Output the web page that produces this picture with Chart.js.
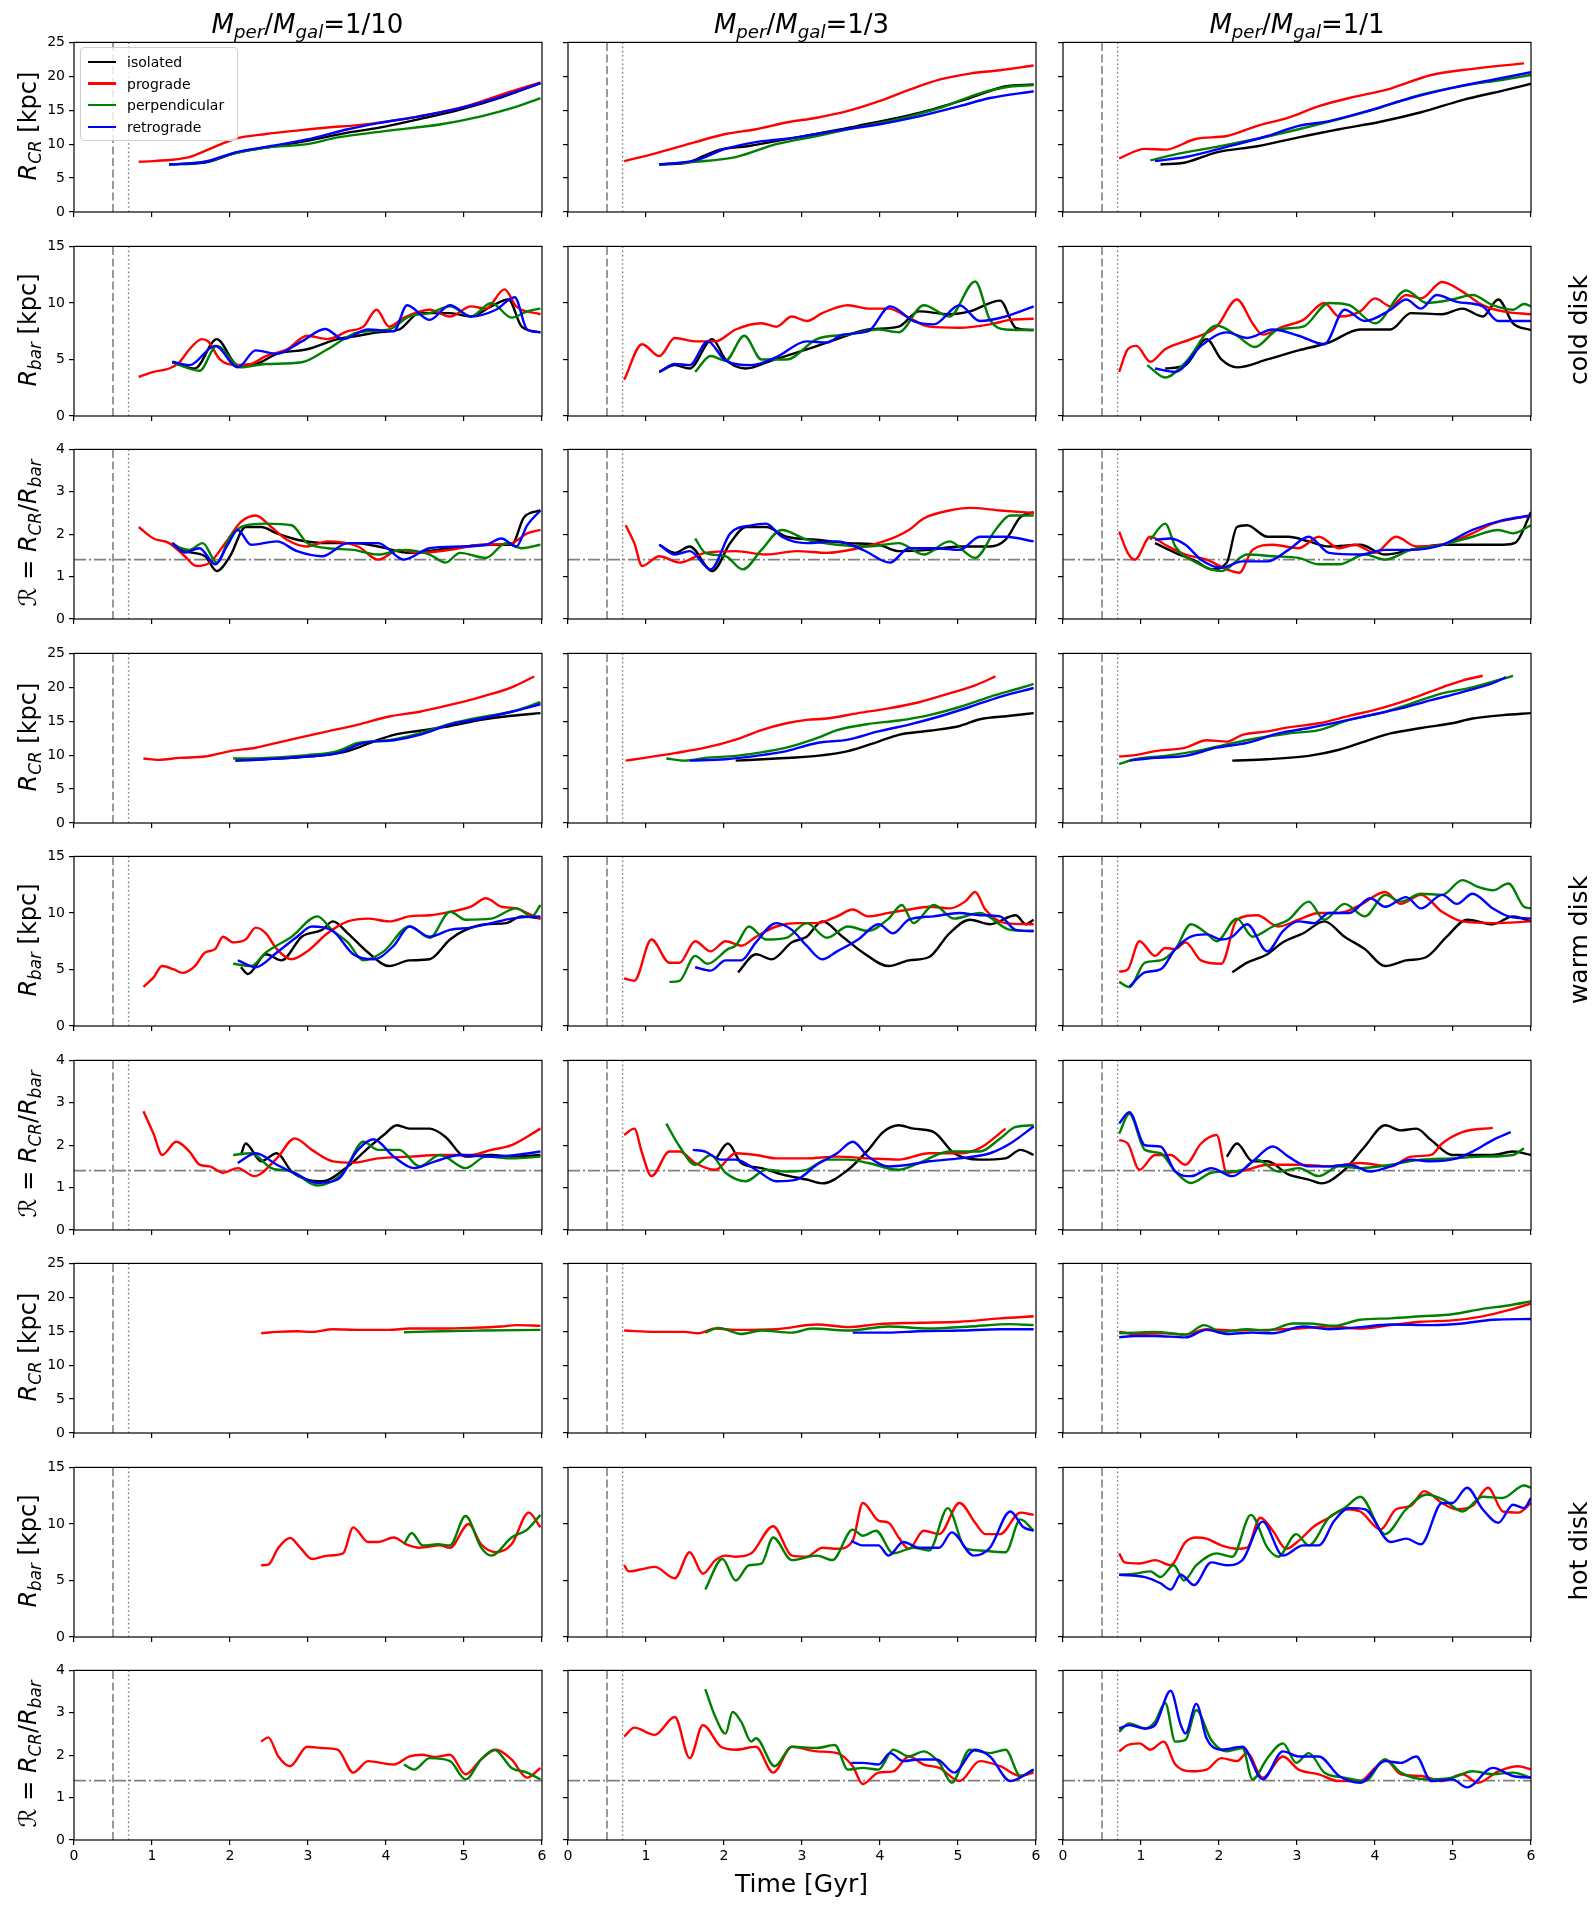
<!DOCTYPE html>
<html>
<head>
<meta charset="utf-8">
<title>Bar corotation radius and bar length</title>
<script src="https://cdn.jsdelivr.net/npm/chart.js@4.4.0/dist/chart.umd.min.js"></script>
<style>
  html, body { margin: 0; padding: 0; background: #fff; }
  body { position: relative; width: 1595px; height: 1908px; overflow: hidden; font-family: "DejaVu Sans", sans-serif; color: #000; }
  .lbl { position: absolute; white-space: nowrap; font-size: 24px; line-height: 1; transform: translate(-50%, -50%); z-index: 3; }
  .rot { transform: translate(-50%, -50%) rotate(-90deg); }
  .lbl i { font-style: italic; }
  .lbl sub { font-size: 70%; vertical-align: -0.3em; line-height: 0; }
  #legend { position: absolute; left: 80px; top: 47px; width: 156px; height: 92px; border: 1px solid #d0d0d0; border-radius: 4px; background: rgba(255,255,255,0.8); z-index: 4; font-size: 14px; }
  .lg-line { position: absolute; left: 7px; width: 28px; height: 2.5px; }
  .lg-text { position: absolute; left: 46px; line-height: 1; transform: translateY(-50%); white-space: nowrap; }
</style>
</head>
<body>
<div id="legend"></div>
<script>
// axis ticks and reference lines
const timeTicks = [0, 1, 2, 3, 4, 5, 6];
const rcrTicks = [0, 5, 10, 15, 20, 25];
const rbarTicks = [0, 5, 10, 15];
const ratioTicks = [0, 1, 2, 3, 4];
const encounterTimes = [0.5, 0.7];
const ratioFast = 1.4;

const seriesNames = ['isolated', 'prograde', 'perpendicular', 'retrograde'];
const seriesColors = ['#000000', '#ff0000', '#008000', '#0000ff'];
const massRatios = ['1/10', '1/3', '1/1'];
const diskNames = ['cold disk', 'warm disk', 'hot disk'];

// ---- cold disk: R_CR [kpc] (time Gyr, value)
const coldRcr10Iso = [[1.22,7.0],[1.68,7.3],[2.07,8.7],[2.46,9.5],[2.99,10.5],[3.51,11.7],[3.9,12.4],[4.43,13.7],[4.95,15.1],[5.48,16.9],[5.98,19.0]];
const coldRcr10Pro = [[0.83,7.4],[1.02,7.5],[1.48,8.1],[1.74,9.3],[2.07,10.8],[2.46,11.5],[2.86,12.0],[3.25,12.45],[3.64,12.8],[4.04,13.4],[4.56,14.4],[5.09,15.8],[5.48,17.3],[5.98,19.1]];
const coldRcr10Per = [[1.22,7.0],[1.68,7.4],[2.07,8.7],[2.46,9.5],[2.99,10.0],[3.38,11.0],[4.04,12.0],[4.69,12.9],[5.22,14.1],[5.61,15.3],[5.98,16.8]];
const coldRcr10Ret = [[1.22,7.0],[1.68,7.4],[2.07,8.8],[2.46,9.6],[2.99,10.7],[3.51,12.2],[3.9,13.1],[4.43,14.1],[4.95,15.3],[5.48,17.0],[5.98,19.0]];

const coldRcr3Iso = [[1.17,7.0],[1.5,7.2],[1.75,8.3],[1.95,9.2],[2.3,9.7],[2.93,11.0],[3.72,12.7],[4.5,14.6],[5.15,16.8],[5.6,18.5],[5.97,18.8]];
const coldRcr3Pro = [[0.72,7.5],[1.11,8.6],[1.63,10.3],[2.02,11.5],[2.41,12.2],[2.8,13.2],[3.19,13.9],[3.59,14.9],[3.98,16.3],[4.37,18.0],[4.76,19.5],[5.15,20.4],[5.54,20.9],[5.97,21.6]];
const coldRcr3Per = [[1.17,7.0],[1.63,7.4],[2.15,8.1],[2.67,10.0],[3.19,11.2],[3.72,12.5],[4.24,13.7],[4.76,15.3],[5.28,17.5],[5.67,18.5],[5.97,18.7]];
const coldRcr3Ret = [[1.17,7.0],[1.63,7.6],[2.02,9.3],[2.41,10.3],[2.93,11.0],[3.45,12.0],[3.98,12.9],[4.5,14.1],[5.02,15.6],[5.41,16.8],[5.97,17.8]];

const coldRcr1Iso = [[1.25,7.0],[1.57,7.3],[1.97,8.8],[2.49,9.7],[3.02,11.0],[3.54,12.2],[4.07,13.3],[4.59,14.7],[5.12,16.5],[5.64,17.9],[6.0,18.9]];
const coldRcr1Pro = [[0.72,7.9],[1.05,9.3],[1.31,9.2],[1.71,10.8],[2.1,11.2],[2.49,12.7],[2.89,13.9],[3.28,15.6],[3.67,16.8],[4.2,18.2],[4.72,20.2],[5.25,21.1],[5.91,21.9]];
const coldRcr1Per = [[1.12,7.6],[1.44,8.5],[1.97,9.6],[2.49,10.8],[3.02,12.2],[3.54,13.7],[4.07,15.4],[4.59,17.3],[5.12,18.6],[5.64,19.5],[6.0,20.2]];
const coldRcr1Ret = [[1.18,7.5],[1.57,8.1],[2.1,9.6],[2.62,11.2],[3.02,12.7],[3.41,13.4],[3.94,15.0],[4.46,16.8],[4.99,18.3],[5.51,19.5],[6.0,20.6]];

// ---- cold disk: R_bar [kpc]
const coldRbar10Iso = [[1.26,4.75],[1.55,4.2],[1.83,6.8],[2.1,4.5],[2.33,4.6],[2.6,5.5],[2.99,5.9],[3.38,6.8],[3.64,7.1],[3.9,7.4],[4.17,7.65],[4.43,9.1],[4.82,9.1],[5.09,8.8],[5.35,9.7],[5.57,10.3],[5.74,7.9],[5.98,7.4]];
const coldRbar10Pro = [[0.83,3.45],[1.02,3.9],[1.22,4.2],[1.35,4.75],[1.48,5.9],[1.64,6.8],[1.72,6.6],[1.87,5.0],[2.07,4.5],[2.27,4.6],[2.46,5.3],[2.73,5.9],[2.99,7.1],[3.25,6.8],[3.51,7.5],[3.71,7.9],[3.88,9.4],[4.04,7.9],[4.23,8.7],[4.56,9.4],[4.82,8.8],[5.09,9.7],[5.28,9.5],[5.52,11.2],[5.67,9.7],[5.98,9.0]];
const coldRbar10Per = [[1.26,4.75],[1.61,4.0],[1.83,6.2],[2.14,4.3],[2.46,4.6],[2.92,4.75],[3.25,5.9],[3.64,7.4],[4.04,7.65],[4.3,8.8],[4.56,9.1],[4.82,9.7],[5.09,8.8],[5.35,10.0],[5.61,8.7],[5.81,9.25],[5.98,9.5]];
const coldRbar10Ret = [[1.26,4.8],[1.48,4.5],[1.81,6.2],[2.1,4.3],[2.33,5.8],[2.6,5.5],[2.92,6.6],[3.22,7.7],[3.45,6.8],[3.77,7.65],[4.1,7.5],[4.27,9.8],[4.56,8.5],[4.82,9.8],[5.09,8.8],[5.41,9.4],[5.65,10.5],[5.81,7.65],[5.98,7.4]];

const coldRbar3Iso = [[1.17,3.9],[1.37,4.5],[1.56,4.2],[1.85,6.8],[2.02,5.0],[2.28,4.2],[2.61,4.9],[3.06,5.9],[3.45,6.8],[3.85,7.65],[4.24,7.9],[4.5,9.25],[4.89,9.0],[5.15,9.25],[5.54,10.2],[5.74,7.8],[5.97,7.6]];
const coldRbar3Pro = [[0.72,3.2],[0.95,6.35],[1.17,5.3],[1.37,6.9],[1.63,6.6],[1.89,6.6],[2.15,7.65],[2.48,8.2],[2.67,7.9],[2.87,8.8],[3.06,8.4],[3.26,9.1],[3.59,9.8],[3.85,9.5],[4.11,9.5],[4.37,8.7],[4.63,7.9],[5.02,7.8],[5.41,8.1],[5.67,8.5],[5.97,8.6]];
const coldRbar3Per = [[1.63,3.9],[1.83,5.3],[2.02,4.9],[2.26,7.1],[2.48,5.0],[2.8,5.0],[3.19,6.8],[3.59,7.2],[3.98,7.65],[4.24,7.4],[4.56,9.8],[4.89,8.8],[5.22,11.9],[5.41,8.5],[5.61,7.65],[5.97,7.6]];
const coldRbar3Ret = [[1.17,3.9],[1.37,4.6],[1.56,4.5],[1.79,6.6],[2.02,4.9],[2.35,4.5],[2.67,5.2],[3.06,6.6],[3.32,6.5],[3.52,7.2],[3.85,7.5],[4.13,9.7],[4.43,8.4],[4.69,8.1],[5.02,9.8],[5.28,8.4],[5.61,8.8],[5.97,9.7]];

const coldRbar1Iso = [[1.31,4.2],[1.57,4.5],[1.84,6.8],[2.03,5.0],[2.23,4.3],[2.62,5.0],[3.02,5.8],[3.41,6.5],[3.81,7.65],[4.2,7.65],[4.46,9.1],[4.86,9.0],[5.12,9.5],[5.38,8.8],[5.58,10.3],[5.77,8.2],[6.0,7.6]];
const coldRbar1Pro = [[0.72,3.9],[0.83,5.9],[0.94,6.2],[1.12,4.8],[1.31,5.9],[1.64,6.8],[1.97,7.9],[2.23,10.3],[2.43,8.2],[2.56,7.2],[2.82,7.9],[3.08,8.5],[3.35,10.0],[3.54,8.8],[3.81,9.25],[4.0,10.4],[4.2,9.7],[4.4,10.7],[4.59,10.4],[4.86,11.85],[5.12,11.0],[5.38,9.8],[5.64,9.25],[6.0,9.0]];
const coldRbar1Per = [[1.08,4.5],[1.31,3.4],[1.57,4.75],[1.97,8.0],[2.23,7.1],[2.46,6.1],[2.76,7.65],[3.08,7.9],[3.41,10.0],[3.67,9.8],[4.0,8.2],[4.4,11.1],[4.66,10.0],[4.99,10.3],[5.25,10.7],[5.51,9.8],[5.77,9.4],[5.91,9.9],[6.0,9.7]];
const coldRbar1Ret = [[1.18,4.2],[1.44,3.9],[1.77,6.2],[2.1,7.4],[2.36,6.9],[2.69,7.65],[3.02,7.1],[3.35,6.35],[3.61,9.4],[3.87,8.4],[4.2,9.4],[4.4,10.3],[4.59,9.5],[4.79,10.7],[5.05,10.1],[5.38,9.7],[5.58,8.4],[6.0,8.4]];

// ---- cold disk: R = R_CR / R_bar
const coldQ10Iso = [[1.26,1.79],[1.42,1.6],[1.68,1.48],[1.83,1.13],[2.0,1.48],[2.2,2.17],[2.4,2.17],[2.6,2.02],[2.86,1.87],[3.25,1.79],[3.58,1.79],[3.9,1.71],[4.3,1.56],[4.82,1.67],[5.35,1.75],[5.61,1.75],[5.77,2.4],[5.98,2.56]];
const coldQ10Pro = [[0.83,2.17],[1.02,1.9],[1.22,1.79],[1.42,1.48],[1.57,1.25],[1.74,1.33],[1.94,1.79],[2.14,2.29],[2.33,2.44],[2.53,2.17],[2.73,1.87],[2.99,1.71],[3.25,1.83],[3.64,1.71],[3.9,1.4],[4.17,1.63],[4.43,1.56],[4.82,1.63],[5.22,1.75],[5.61,1.79],[5.81,2.02],[5.98,2.1]];
const coldQ10Per = [[1.26,1.75],[1.48,1.63],[1.65,1.79],[1.83,1.33],[2.0,1.94],[2.2,2.21],[2.46,2.25],[2.79,2.21],[2.99,1.79],[3.25,1.67],[3.58,1.63],[3.9,1.52],[4.23,1.63],[4.56,1.52],[4.76,1.33],[4.95,1.56],[5.28,1.44],[5.54,1.79],[5.74,1.67],[5.98,1.75]];
const coldQ10Ret = [[1.26,1.79],[1.42,1.57],[1.61,1.67],[1.81,1.29],[1.97,1.75],[2.1,2.1],[2.27,1.75],[2.6,1.83],[2.86,1.6],[3.18,1.48],[3.51,1.79],[3.9,1.79],[4.23,1.4],[4.56,1.67],[4.95,1.71],[5.28,1.75],[5.48,1.9],[5.67,1.71],[5.81,2.21],[5.98,2.56]];

const coldQ3Iso = [[1.17,1.75],[1.37,1.56],[1.56,1.71],[1.85,1.13],[2.08,1.79],[2.28,2.17],[2.54,2.17],[2.8,1.94],[3.19,1.87],[3.59,1.79],[3.98,1.75],[4.24,1.6],[4.63,1.63],[5.02,1.71],[5.41,1.71],[5.61,1.87],[5.8,2.4],[5.97,2.52]];
const coldQ3Pro = [[0.74,2.21],[0.85,1.79],[0.95,1.25],[1.17,1.48],[1.43,1.33],[1.76,1.56],[2.15,1.6],[2.54,1.52],[2.93,1.6],[3.32,1.56],[3.72,1.67],[4.11,1.87],[4.37,2.1],[4.56,2.37],[4.89,2.56],[5.15,2.62],[5.54,2.56],[5.97,2.5]];
const coldQ3Per = [[1.63,1.9],[1.76,1.56],[2.02,1.48],[2.24,1.17],[2.48,1.63],[2.74,2.1],[3.06,1.87],[3.45,1.75],[3.85,1.71],[4.24,1.79],[4.56,1.52],[4.89,1.83],[5.22,1.44],[5.48,2.1],[5.67,2.44],[5.97,2.44]];
const coldQ3Ret = [[1.17,1.75],[1.37,1.52],[1.56,1.6],[1.83,1.17],[2.08,2.02],[2.35,2.21],[2.54,2.25],[2.74,1.94],[3.06,1.79],[3.45,1.83],[3.78,1.63],[4.13,1.33],[4.37,1.67],[4.69,1.67],[5.02,1.63],[5.28,1.94],[5.61,1.94],[5.97,1.83]];

const coldQ1Iso = [[1.18,1.79],[1.44,1.56],[1.71,1.36],[1.9,1.17],[2.1,1.33],[2.23,2.17],[2.36,2.21],[2.62,1.94],[2.89,1.94],[3.15,1.83],[3.41,1.71],[3.81,1.75],[4.13,1.52],[4.46,1.63],[4.86,1.75],[5.25,1.75],[5.64,1.75],[5.8,1.8],[6.0,2.52]];
const coldQ1Pro = [[0.72,2.06],[0.83,1.56],[0.92,1.4],[1.12,1.94],[1.31,1.75],[1.57,1.52],[1.84,1.4],[2.1,1.17],[2.26,1.09],[2.43,1.63],[2.69,1.75],[3.02,1.67],[3.28,1.94],[3.54,1.67],[3.74,1.75],[4.0,1.56],[4.27,1.94],[4.53,1.71],[4.86,1.75],[5.25,2.02],[5.51,2.25],[6.0,2.44]];
const coldQ1Per = [[1.12,1.87],[1.31,2.25],[1.44,1.71],[1.71,1.33],[2.03,1.13],[2.36,1.52],[2.69,1.48],[3.02,1.44],[3.28,1.29],[3.54,1.29],[3.87,1.52],[4.13,1.4],[4.46,1.63],[4.86,1.75],[5.25,1.94],[5.58,2.1],[5.77,2.02],[6.0,2.21]];
const coldQ1Ret = [[1.18,1.87],[1.38,1.9],[1.57,1.75],[1.77,1.4],[2.03,1.21],[2.3,1.36],[2.62,1.36],[2.89,1.63],[3.15,1.94],[3.41,1.56],[3.81,1.52],[4.13,1.63],[4.46,1.63],[4.86,1.75],[5.25,2.1],[5.64,2.33],[6.0,2.44]];

// ---- warm disk: R_CR [kpc]
const warmRcr10Iso = [[2.07,9.2],[2.6,9.5],[3.12,9.9],[3.51,10.6],[3.84,12.0],[4.1,13.0],[4.43,13.6],[4.82,14.3],[5.22,15.2],[5.61,15.8],[5.98,16.2]];
const warmRcr10Pro = [[0.89,9.5],[1.09,9.3],[1.35,9.6],[1.68,9.8],[2.0,10.6],[2.33,11.1],[2.6,11.8],[2.86,12.5],[3.25,13.5],[3.64,14.5],[4.04,15.7],[4.43,16.4],[4.82,17.4],[5.22,18.6],[5.61,20.0],[5.9,21.6]];
const warmRcr10Per = [[2.04,9.5],[2.46,9.6],[2.99,10.0],[3.38,10.6],[3.64,11.8],[4.04,12.2],[4.43,13.2],[4.82,14.6],[5.22,15.6],[5.61,16.4],[5.98,17.8]];
const warmRcr10Ret = [[2.07,9.2],[2.46,9.4],[2.99,9.8],[3.38,10.3],[3.71,11.8],[4.1,12.2],[4.43,13.0],[4.82,14.5],[5.22,15.4],[5.61,16.4],[5.98,17.5]];

const warmRcr3Iso = [[2.15,9.2],[2.67,9.5],[3.19,9.9],[3.59,10.6],[3.98,12.0],[4.24,13.0],[4.63,13.6],[5.02,14.3],[5.28,15.3],[5.67,15.8],[5.97,16.2]];
const warmRcr3Pro = [[0.74,9.2],[0.98,9.6],[1.37,10.3],[1.76,11.1],[2.15,12.3],[2.48,13.7],[2.8,14.7],[3.06,15.2],[3.32,15.4],[3.72,16.2],[4.11,16.9],[4.5,17.8],[4.89,19.1],[5.22,20.3],[5.48,21.6]];
const warmRcr3Per = [[1.26,9.5],[1.5,9.2],[1.76,9.6],[2.15,9.9],[2.41,10.3],[2.8,11.1],[3.19,12.5],[3.45,13.7],[3.85,14.6],[4.24,15.1],[4.63,15.9],[5.02,17.1],[5.41,18.6],[5.8,19.9],[5.97,20.5]];
const warmRcr3Ret = [[1.56,9.2],[2.02,9.4],[2.41,9.9],[2.8,10.6],[3.19,11.8],[3.59,12.3],[3.98,13.5],[4.37,14.5],[4.76,15.7],[5.15,17.1],[5.54,18.6],[5.97,19.9]];

const warmRcr1Iso = [[2.17,9.2],[2.62,9.4],[3.15,9.9],[3.54,10.8],[3.94,12.3],[4.2,13.2],[4.59,14.0],[4.99,14.7],[5.25,15.4],[5.64,15.9],[6.0,16.2]];
const warmRcr1Pro = [[0.72,9.8],[0.92,10.0],[1.18,10.6],[1.57,11.1],[1.84,12.2],[2.1,12.0],[2.3,13.0],[2.62,13.5],[2.89,14.1],[3.28,14.7],[3.67,15.8],[4.07,16.9],[4.46,18.3],[4.86,20.0],[5.12,21.0],[5.38,21.7]];
const warmRcr1Per = [[0.72,8.7],[0.92,9.4],[1.31,9.9],[1.71,10.6],[2.1,11.6],[2.49,12.5],[2.89,13.2],[3.28,13.7],[3.67,15.2],[4.07,16.2],[4.46,17.6],[4.86,19.1],[5.25,20.0],[5.77,21.7]];
const warmRcr1Ret = [[0.85,9.2],[1.18,9.6],[1.57,9.9],[1.97,11.1],[2.36,11.8],[2.76,13.2],[3.15,14.0],[3.54,14.9],[3.94,15.9],[4.33,16.9],[4.72,18.1],[5.12,19.3],[5.51,20.6],[5.68,21.5]];

// ---- warm disk: R_bar [kpc]
const warmRbar10Iso = [[2.14,5.2],[2.23,4.6],[2.46,6.35],[2.66,5.8],[2.92,7.9],[3.18,8.5],[3.32,9.25],[3.51,8.2],[3.77,6.5],[4.04,5.3],[4.3,5.8],[4.56,5.9],[4.82,7.65],[5.02,8.5],[5.28,9.0],[5.54,9.1],[5.74,9.7],[5.98,9.5]];
const warmRbar10Pro = [[0.89,3.45],[1.02,4.3],[1.13,5.3],[1.28,5.0],[1.39,4.7],[1.55,5.3],[1.68,6.5],[1.81,6.8],[1.91,7.9],[2.04,7.4],[2.2,7.65],[2.33,8.7],[2.46,8.2],[2.6,6.8],[2.79,5.9],[2.99,6.6],[3.25,8.2],[3.51,9.25],[3.77,9.5],[4.04,9.25],[4.3,9.7],[4.56,9.8],[4.82,10.1],[5.09,10.55],[5.28,11.3],[5.48,10.55],[5.67,10.4],[5.87,9.8],[5.98,9.5]];
const warmRbar10Per = [[2.04,5.5],[2.27,5.3],[2.46,6.5],[2.79,7.9],[3.12,9.7],[3.32,8.4],[3.51,7.4],[3.71,5.8],[3.97,6.6],[4.3,8.8],[4.56,7.8],[4.82,10.1],[5.02,9.4],[5.35,9.5],[5.67,10.4],[5.87,9.7],[5.98,10.7]];
const warmRbar10Ret = [[2.1,5.8],[2.33,5.2],[2.6,6.5],[2.86,7.9],[3.05,8.8],[3.32,8.4],[3.58,6.35],[3.84,5.9],[4.1,7.1],[4.3,8.8],[4.56,7.9],[4.82,8.5],[5.09,8.7],[5.35,9.1],[5.61,9.5],[5.98,9.7]];

const warmRbar3Iso = [[2.18,4.75],[2.41,6.35],[2.61,5.9],[2.87,7.4],[3.06,7.9],[3.26,9.25],[3.52,7.9],[3.78,6.5],[4.11,5.3],[4.37,5.8],[4.63,6.1],[4.89,8.2],[5.15,9.4],[5.41,9.0],[5.74,9.8],[5.87,9.0],[5.97,9.4]];
const warmRbar3Pro = [[0.72,4.2],[0.85,4.0],[1.07,7.65],[1.3,5.6],[1.43,5.6],[1.63,7.5],[1.83,6.6],[2.02,7.5],[2.22,7.1],[2.41,7.9],[2.67,8.8],[2.93,9.1],[3.19,9.1],[3.45,9.7],[3.65,10.3],[3.85,9.7],[4.11,10.0],[4.37,10.3],[4.63,10.55],[4.89,10.4],[5.09,11.0],[5.22,11.85],[5.35,10.3],[5.61,9.1],[5.97,9.0]];
const warmRbar3Per = [[1.3,3.9],[1.43,4.0],[1.63,6.2],[1.79,5.5],[2.05,6.8],[2.15,7.1],[2.32,8.8],[2.54,7.65],[2.8,7.8],[3.06,9.1],[3.32,7.8],[3.59,8.8],[3.85,8.4],[4.11,9.5],[4.28,10.7],[4.43,9.1],[4.69,10.7],[4.95,9.5],[5.28,10.0],[5.67,8.5],[5.97,8.4]];
const warmRbar3Ret = [[1.63,5.2],[1.83,4.9],[2.02,5.8],[2.22,5.8],[2.41,7.4],[2.67,9.1],[2.87,8.5],[3.06,7.1],[3.26,5.9],[3.45,6.6],[3.72,7.65],[3.98,9.0],[4.17,8.2],[4.37,9.4],[4.69,9.7],[5.02,10.0],[5.28,9.8],[5.54,9.7],[5.74,8.5],[5.97,8.4]];

const warmRbar1Iso = [[2.17,4.75],[2.36,5.6],[2.62,6.35],[2.82,7.4],[3.08,8.2],[3.35,9.25],[3.61,7.9],[3.87,6.8],[4.13,5.3],[4.4,5.8],[4.66,6.1],[4.92,7.9],[5.18,9.4],[5.51,9.0],[5.77,9.7],[6.0,9.25]];
const warmRbar1Pro = [[0.72,4.8],[0.83,5.0],[0.98,7.5],[1.18,6.2],[1.31,6.9],[1.44,6.8],[1.57,7.4],[1.77,5.8],[2.03,5.5],[2.23,9.4],[2.49,9.8],[2.76,8.8],[3.02,9.4],[3.28,10.0],[3.54,10.0],[3.81,10.7],[4.13,11.85],[4.33,10.8],[4.59,11.6],[4.86,10.1],[5.12,9.25],[5.51,9.1],[6.0,9.25]];
const warmRbar1Per = [[0.72,3.9],[0.85,3.45],[1.05,5.6],[1.25,5.8],[1.44,6.8],[1.64,9.0],[1.84,8.2],[1.97,7.5],[2.23,9.5],[2.43,7.9],[2.69,8.8],[2.89,9.4],[3.15,11.0],[3.35,9.4],[3.61,10.8],[3.87,9.7],[4.13,11.6],[4.33,11.0],[4.59,11.7],[4.86,11.6],[5.12,12.9],[5.32,12.3],[5.51,12.0],[5.71,12.6],[5.91,10.55],[6.0,10.4]];
const warmRbar1Ret = [[0.85,3.45],[1.05,4.75],[1.25,5.0],[1.44,6.8],[1.64,7.9],[1.84,8.1],[2.03,7.65],[2.17,7.9],[2.36,9.0],[2.62,6.6],[2.82,8.4],[3.02,9.25],[3.22,9.1],[3.41,10.0],[3.67,10.0],[3.94,11.3],[4.13,10.55],[4.4,11.4],[4.59,10.4],[4.86,11.6],[5.05,10.8],[5.25,11.7],[5.51,10.4],[5.71,9.7],[6.0,9.5]];

// ---- warm disk: R = R_CR / R_bar
const warmQ10Iso = [[2.14,1.77],[2.2,2.04],[2.4,1.62],[2.6,1.81],[2.79,1.38],[2.99,1.19],[3.18,1.15],[3.51,1.5],[3.77,1.93],[3.97,2.24],[4.14,2.47],[4.3,2.39],[4.56,2.39],[4.76,2.2],[5.02,1.73],[5.35,1.77],[5.61,1.73],[5.98,1.77]];
const warmQ10Pro = [[0.89,2.8],[1.02,2.27],[1.13,1.77],[1.31,2.08],[1.48,1.85],[1.61,1.54],[1.74,1.5],[1.91,1.35],[2.1,1.46],[2.31,1.27],[2.6,1.69],[2.83,2.16],[3.05,1.89],[3.32,1.62],[3.58,1.59],[3.9,1.69],[4.3,1.73],[4.69,1.77],[5.09,1.77],[5.35,1.89],[5.61,2.0],[5.98,2.39]];
const warmQ10Per = [[2.04,1.77],[2.27,1.81],[2.53,1.46],[2.79,1.38],[3.12,1.05],[3.45,1.35],[3.71,2.08],[3.9,1.89],[4.17,1.89],[4.43,1.5],[4.69,1.77],[5.02,1.46],[5.28,1.73],[5.61,1.69],[5.98,1.73]];
const warmQ10Ret = [[2.1,1.58],[2.33,1.81],[2.6,1.54],[2.86,1.31],[3.12,1.11],[3.38,1.19],[3.64,1.89],[3.84,2.14],[4.1,1.73],[4.36,1.46],[4.63,1.62],[4.95,1.77],[5.35,1.73],[5.67,1.77],[5.98,1.85]];

const warmQ3Iso = [[1.89,1.66],[2.05,2.04],[2.22,1.58],[2.48,1.46],[2.74,1.31],[3.06,1.19],[3.26,1.1],[3.59,1.42],[3.85,1.89],[4.04,2.31],[4.24,2.47],[4.43,2.39],[4.69,2.31],[4.95,1.81],[5.28,1.66],[5.61,1.69],[5.8,1.89],[5.97,1.77]];
const warmQ3Pro = [[0.72,2.24],[0.85,2.39],[0.95,1.81],[1.07,1.27],[1.3,1.85],[1.43,1.85],[1.63,1.58],[1.89,1.42],[2.15,1.81],[2.41,1.77],[2.67,1.69],[3.06,1.69],[3.45,1.73],[3.85,1.69],[4.24,1.66],[4.63,1.81],[5.02,1.81],[5.28,1.93],[5.61,2.39]];
const warmQ3Per = [[1.26,2.51],[1.43,1.97],[1.63,1.54],[1.83,1.77],[2.02,1.35],[2.28,1.15],[2.54,1.42],[2.8,1.38],[3.06,1.42],[3.32,1.66],[3.59,1.66],[3.85,1.58],[4.24,1.42],[4.5,1.58],[4.89,1.85],[5.28,1.85],[5.54,2.16],[5.74,2.43],[5.97,2.47]];
const warmQ3Ret = [[1.6,1.89],[1.76,1.85],[1.96,1.66],[2.15,1.66],[2.41,1.42],[2.67,1.15],[2.93,1.19],[3.19,1.54],[3.45,1.81],[3.65,2.08],[3.85,1.73],[4.11,1.5],[4.37,1.54],[4.63,1.62],[5.02,1.69],[5.41,1.81],[5.67,2.04],[5.97,2.44]];

const warmQ1Iso = [[2.1,1.73],[2.23,2.04],[2.43,1.62],[2.62,1.62],[2.89,1.31],[3.15,1.19],[3.31,1.1],[3.61,1.42],[3.87,1.97],[4.13,2.47],[4.33,2.35],[4.53,2.39],[4.72,2.12],[4.99,1.77],[5.25,1.77],[5.51,1.77],[5.77,1.85],[6.0,1.77]];
const warmQ1Pro = [[0.72,2.12],[0.83,2.04],[0.98,1.42],[1.18,1.77],[1.38,1.77],[1.57,1.54],[1.77,2.04],[1.97,2.24],[2.1,1.35],[2.36,1.42],[2.62,1.54],[3.02,1.54],[3.41,1.5],[3.81,1.58],[4.2,1.5],[4.46,1.73],[4.72,1.77],[4.86,2.04],[5.12,2.31],[5.51,2.41]];
const warmQ1Per = [[0.72,2.27],[0.85,2.74],[1.05,1.89],[1.25,1.81],[1.44,1.38],[1.64,1.11],[1.9,1.35],[2.1,1.38],[2.3,1.42],[2.49,1.66],[2.76,1.38],[3.02,1.46],[3.28,1.27],[3.54,1.5],[3.81,1.46],[4.2,1.54],[4.59,1.66],[4.99,1.69],[5.38,1.73],[5.77,1.77],[5.91,1.93]];
const warmQ1Ret = [[0.72,2.51],[0.85,2.78],[1.05,2.0],[1.25,1.97],[1.44,1.38],[1.64,1.27],[1.9,1.46],[2.17,1.27],[2.43,1.62],[2.69,1.97],[2.89,1.73],[3.15,1.5],[3.41,1.5],[3.67,1.54],[3.94,1.38],[4.2,1.5],[4.46,1.66],[4.72,1.62],[5.05,1.69],[5.25,1.85],[5.51,2.12],[5.74,2.31]];

// ---- hot disk: R_CR [kpc]
const hotRcr10Pro = [[2.4,14.7],[2.6,14.9],[2.86,15.0],[3.05,14.9],[3.32,15.3],[3.64,15.2],[4.04,15.2],[4.3,15.4],[4.69,15.4],[5.09,15.5],[5.48,15.7],[5.67,15.9],[5.98,15.8]];
const hotRcr10Per = [[4.23,14.85],[4.69,15.0],[5.22,15.1],[5.98,15.2]];
const hotRcr3Pro = [[0.72,15.1],[1.11,14.9],[1.5,14.9],[1.67,14.7],[1.89,15.4],[2.15,15.2],[2.67,15.3],[3.19,16.0],[3.59,15.6],[3.98,16.05],[4.5,16.25],[5.02,16.4],[5.54,16.9],[5.97,17.2]];
const hotRcr3Per = [[1.76,14.8],[1.93,15.5],[2.22,14.6],[2.48,15.1],[2.87,14.8],[3.13,15.4],[3.59,15.1],[4.11,15.7],[4.63,15.4],[5.15,15.7],[5.67,16.05],[5.97,15.9]];
const hotRcr3Ret = [[3.65,14.8],[4.11,14.8],[4.5,15.0],[5.02,15.1],[5.54,15.3],[5.97,15.3]];
const hotRcr1Pro = [[0.72,14.9],[0.92,14.6],[1.31,14.7],[1.57,14.5],[1.84,15.3],[2.23,15.1],[2.62,15.2],[3.02,15.4],[3.41,15.7],[3.81,15.4],[4.2,15.9],[4.59,16.4],[4.99,16.6],[5.38,17.2],[5.71,18.1],[6.0,19.1]];
const hotRcr1Per = [[0.72,14.7],[0.92,14.8],[1.18,14.9],[1.57,14.5],[1.81,15.9],[2.03,14.9],[2.36,15.3],[2.62,15.1],[2.95,16.15],[3.15,16.15],[3.48,15.8],[3.81,16.7],[4.2,16.9],[4.59,17.2],[4.99,17.5],[5.38,18.3],[5.71,18.8],[6.0,19.4]];
const hotRcr1Ret = [[0.72,14.1],[0.92,14.3],[1.18,14.3],[1.57,14.1],[1.84,15.2],[2.1,14.6],[2.43,14.8],[2.69,14.7],[3.08,15.7],[3.41,15.3],[3.81,15.6],[4.2,16.0],[4.72,15.9],[5.12,16.15],[5.51,16.7],[6.0,16.8]];

// ---- hot disk: R_bar [kpc]
const hotRbar10Pro = [[2.4,6.35],[2.49,6.4],[2.62,7.9],[2.77,8.75],[2.9,7.9],[3.05,6.9],[3.25,7.2],[3.45,7.4],[3.58,9.7],[3.77,8.4],[3.9,8.4],[4.1,8.8],[4.26,8.2],[4.43,7.9],[4.69,8.1],[4.82,7.9],[5.06,10.0],[5.22,8.2],[5.41,7.5],[5.61,8.2],[5.83,11.0],[5.98,9.7]];
const hotRbar10Per = [[4.23,8.2],[4.33,9.2],[4.47,8.1],[4.67,8.2],[4.82,8.1],[5.02,10.7],[5.22,7.9],[5.35,7.2],[5.61,8.8],[5.81,9.5],[5.98,10.8]];
const hotRbar3Pro = [[0.72,6.35],[0.78,5.8],[0.98,6.05],[1.11,6.2],[1.37,5.2],[1.56,7.5],[1.73,5.6],[1.89,6.8],[2.02,7.2],[2.15,7.1],[2.35,7.4],[2.63,9.8],[2.87,7.2],[3.06,7.1],[3.26,7.9],[3.45,7.8],[3.65,8.5],[3.78,11.85],[3.98,10.3],[4.11,10.1],[4.24,8.8],[4.37,7.8],[4.56,9.4],[4.76,9.1],[5.02,11.85],[5.22,10.1],[5.35,9.1],[5.54,9.1],[5.8,11.0],[5.97,10.8]];
const hotRbar3Per = [[1.76,4.2],[1.98,6.9],[2.15,5.0],[2.32,6.35],[2.48,6.5],[2.63,8.8],[2.87,6.8],[3.19,7.2],[3.39,6.8],[3.65,9.5],[3.78,8.95],[3.95,9.4],[4.17,7.4],[4.43,7.9],[4.63,7.65],[4.87,11.4],[5.09,7.9],[5.28,7.65],[5.61,7.5],[5.8,10.4],[5.97,9.4]];
const hotRbar3Ret = [[3.63,8.5],[3.78,8.1],[3.98,8.1],[4.11,7.2],[4.3,8.4],[4.5,7.9],[4.76,7.9],[4.92,9.25],[5.2,7.2],[5.41,7.9],[5.67,11.1],[5.84,9.7],[5.97,9.4]];
const hotRbar1Pro = [[0.72,7.4],[0.79,6.6],[0.98,6.5],[1.18,6.8],[1.38,6.35],[1.57,8.4],[1.71,8.8],[1.84,8.7],[2.03,8.1],[2.23,7.8],[2.36,7.9],[2.53,10.55],[2.69,9.4],[2.86,7.8],[3.02,8.5],[3.22,9.8],[3.41,10.55],[3.61,11.3],[3.81,11.1],[4.07,9.5],[4.27,11.3],[4.46,11.6],[4.63,12.9],[4.86,11.85],[5.05,11.3],[5.25,11.6],[5.45,13.2],[5.64,11.1],[5.84,11.0],[6.0,11.85]];
const hotRbar1Per = [[0.72,5.5],[0.92,5.6],[1.12,5.8],[1.25,5.3],[1.42,6.35],[1.55,5.0],[1.71,6.35],[1.97,7.4],[2.17,7.1],[2.41,10.8],[2.62,7.9],[2.76,7.1],[2.99,9.1],[3.15,8.1],[3.41,10.55],[3.61,11.4],[3.81,12.4],[4.13,9.1],[4.4,11.3],[4.66,12.6],[4.89,12.1],[5.12,11.1],[5.38,12.4],[5.64,12.3],[5.91,13.4],[6.0,13.2]];
const hotRbar1Ret = [[0.72,5.5],[1.05,5.3],[1.25,4.75],[1.38,4.2],[1.51,5.5],[1.68,4.6],[1.9,6.6],[2.1,6.35],[2.3,6.8],[2.56,10.2],[2.82,7.2],[3.08,8.1],[3.28,8.1],[3.48,10.3],[3.67,11.4],[3.87,11.3],[4.2,8.4],[4.4,8.7],[4.59,8.2],[4.86,11.85],[4.99,11.85],[5.18,13.2],[5.38,11.3],[5.58,10.1],[5.77,11.7],[5.91,11.4],[6.0,12.3]];

// ---- hot disk: R = R_CR / R_bar
const hotQ10Pro = [[2.4,2.32],[2.49,2.42],[2.62,1.97],[2.77,1.74],[2.99,2.2],[3.18,2.17],[3.38,2.13],[3.58,1.59],[3.77,1.86],[4.1,1.78],[4.3,1.97],[4.46,2.01],[4.63,1.96],[4.82,2.01],[5.02,1.55],[5.22,1.9],[5.41,2.13],[5.61,1.9],[5.81,1.47],[5.98,1.7]];
const hotQ10Per = [[4.23,1.78],[4.36,1.66],[4.56,1.93],[4.82,1.86],[5.02,1.43],[5.22,1.9],[5.39,2.13],[5.61,1.7],[5.81,1.59],[5.98,1.43]];
const hotQ3Pro = [[0.72,2.44],[0.85,2.65],[1.11,2.48],[1.37,2.9],[1.56,1.93],[1.73,2.71],[1.96,2.2],[2.15,2.13],[2.41,2.2],[2.63,1.59],[2.87,2.2],[3.19,2.09],[3.45,2.05],[3.65,1.74],[3.78,1.32],[3.98,1.59],[4.17,1.62],[4.37,1.97],[4.56,1.78],[4.76,1.7],[5.02,1.39],[5.28,1.86],[5.54,1.74],[5.8,1.51],[5.97,1.59]];
const hotQ3Per = [[1.76,3.56],[1.89,2.9],[2.02,2.51],[2.11,3.02],[2.22,2.79],[2.35,2.32],[2.41,2.4],[2.65,1.74],[2.87,2.2],[3.19,2.17],[3.42,2.24],[3.59,1.66],[3.78,1.7],[3.98,1.66],[4.17,2.13],[4.37,1.97],[4.56,2.09],[4.76,1.82],[4.92,1.35],[5.15,2.13],[5.41,2.05],[5.61,2.13],[5.8,1.51],[5.97,1.66]];
const hotQ3Ret = [[3.63,1.82],[3.78,1.82],[3.98,1.78],[4.13,2.05],[4.3,1.86],[4.5,1.9],[4.73,1.9],[4.95,1.59],[5.22,2.13],[5.41,1.97],[5.67,1.39],[5.97,1.66]];
const hotQ1Pro = [[0.72,2.09],[0.83,2.24],[0.98,2.28],[1.12,2.13],[1.29,2.32],[1.44,1.78],[1.64,1.62],[1.84,1.66],[2.03,1.93],[2.23,1.86],[2.36,2.05],[2.56,1.47],[2.82,1.97],[3.02,1.66],[3.28,1.55],[3.54,1.39],[3.81,1.39],[4.0,1.7],[4.13,1.9],[4.33,1.55],[4.59,1.51],[4.86,1.39],[5.12,1.55],[5.32,1.35],[5.58,1.62],[5.84,1.74],[6.0,1.66]];
const hotQ1Per = [[0.72,2.55],[0.85,2.75],[1.05,2.63],[1.18,2.79],[1.31,3.23],[1.44,2.32],[1.57,2.36],[1.71,3.06],[1.9,2.36],[2.1,2.09],[2.3,2.17],[2.43,1.43],[2.62,1.93],[2.82,2.28],[2.99,1.82],[3.15,2.05],[3.35,1.59],[3.61,1.47],[3.87,1.39],[4.13,1.9],[4.33,1.59],[4.66,1.43],[4.99,1.47],[5.25,1.62],[5.51,1.55],[5.77,1.59],[6.0,1.47]];
const hotQ1Ret = [[0.72,2.63],[0.85,2.71],[1.05,2.63],[1.18,2.71],[1.38,3.52],[1.51,2.71],[1.57,2.51],[1.71,3.21],[1.84,2.4],[2.03,2.13],[2.3,2.2],[2.56,1.43],[2.82,2.09],[3.02,1.97],[3.28,1.97],[3.54,1.51],[3.81,1.35],[4.13,1.86],[4.33,1.82],[4.53,1.97],[4.72,1.39],[4.99,1.43],[5.18,1.24],[5.51,1.7],[5.77,1.51],[6.0,1.47]];

// one row per quantity, columns are the mass ratios; each cell lists iso, pro, per, ret
const panelRows = [
  ['rcr',   [[coldRcr10Iso, coldRcr10Pro, coldRcr10Per, coldRcr10Ret], [coldRcr3Iso, coldRcr3Pro, coldRcr3Per, coldRcr3Ret], [coldRcr1Iso, coldRcr1Pro, coldRcr1Per, coldRcr1Ret]]],
  ['rbar',  [[coldRbar10Iso, coldRbar10Pro, coldRbar10Per, coldRbar10Ret], [coldRbar3Iso, coldRbar3Pro, coldRbar3Per, coldRbar3Ret], [coldRbar1Iso, coldRbar1Pro, coldRbar1Per, coldRbar1Ret]]],
  ['ratio', [[coldQ10Iso, coldQ10Pro, coldQ10Per, coldQ10Ret], [coldQ3Iso, coldQ3Pro, coldQ3Per, coldQ3Ret], [coldQ1Iso, coldQ1Pro, coldQ1Per, coldQ1Ret]]],
  ['rcr',   [[warmRcr10Iso, warmRcr10Pro, warmRcr10Per, warmRcr10Ret], [warmRcr3Iso, warmRcr3Pro, warmRcr3Per, warmRcr3Ret], [warmRcr1Iso, warmRcr1Pro, warmRcr1Per, warmRcr1Ret]]],
  ['rbar',  [[warmRbar10Iso, warmRbar10Pro, warmRbar10Per, warmRbar10Ret], [warmRbar3Iso, warmRbar3Pro, warmRbar3Per, warmRbar3Ret], [warmRbar1Iso, warmRbar1Pro, warmRbar1Per, warmRbar1Ret]]],
  ['ratio', [[warmQ10Iso, warmQ10Pro, warmQ10Per, warmQ10Ret], [warmQ3Iso, warmQ3Pro, warmQ3Per, warmQ3Ret], [warmQ1Iso, warmQ1Pro, warmQ1Per, warmQ1Ret]]],
  ['rcr',   [[null, hotRcr10Pro, hotRcr10Per, null], [null, hotRcr3Pro, hotRcr3Per, hotRcr3Ret], [null, hotRcr1Pro, hotRcr1Per, hotRcr1Ret]]],
  ['rbar',  [[null, hotRbar10Pro, hotRbar10Per, null], [null, hotRbar3Pro, hotRbar3Per, hotRbar3Ret], [null, hotRbar1Pro, hotRbar1Per, hotRbar1Ret]]],
  ['ratio', [[null, hotQ10Pro, hotQ10Per, null], [null, hotQ3Pro, hotQ3Per, hotQ3Ret], [null, hotQ1Pro, hotQ1Per, hotQ1Ret]]]
];

const yTicksFor = { rcr: rcrTicks, rbar: rbarTicks, ratio: ratioTicks };
const yTitleFor = {
  rcr: '<i>R</i><sub><i>CR</i></sub> [kpc]',
  rbar: '<i>R</i><sub><i>bar</i></sub> [kpc]',
  ratio: '<i>ℛ</i> = <i>R</i><sub><i>CR</i></sub>/<i>R</i><sub><i>bar</i></sub>'
};

// page geometry
const colLeft = [73.5, 567.5, 1063];
const panelW = 468, panelH = 172;
const rowTop = 40, rowStep = 203.5;
const padL = 62, padT = 10, padR = 14, padB = 34;

Chart.defaults.font.family = "'DejaVu Sans', sans-serif";
Chart.defaults.color = '#000';

const spine = {
  id: 'spine',
  afterDraw(chart) {
    const a = chart.chartArea, ctx = chart.ctx;
    ctx.save();
    ctx.strokeStyle = '#000';
    ctx.lineWidth = 1.2;
    ctx.strokeRect(a.left, a.top, a.right - a.left, a.bottom - a.top);
    ctx.restore();
  }
};

function addLabel(html, x, y, rotated, size) {
  const d = document.createElement('div');
  d.className = 'lbl' + (rotated ? ' rot' : '');
  d.style.left = x + 'px';
  d.style.top = y + 'px';
  if (size) d.style.fontSize = size + 'px';
  d.innerHTML = html;
  document.body.appendChild(d);
}

function addPanel(row, col, kind, lines) {
  const W = panelW + padL + padR, H = panelH + padT + padB;
  const cv = document.createElement('canvas');
  cv.width = W;
  cv.height = H;
  cv.style.position = 'absolute';
  cv.style.left = (colLeft[col] - padL) + 'px';
  cv.style.top = (rowTop + row * rowStep - padT) + 'px';
  cv.style.zIndex = 1;
  document.body.appendChild(cv);

  const yt = yTicksFor[kind];
  const yMin = yt[0], yMax = yt[yt.length - 1];

  // retrograde first so it ends up on top (Chart.js paints dataset 0 last)
  const datasets = [];
  for (let i = 3; i >= 0; i--) {
    if (!lines[i]) continue;
    datasets.push({
      label: seriesNames[i],
      data: lines[i].map(p => ({ x: p[0], y: p[1] })),
      borderColor: seriesColors[i],
      borderWidth: 2.4,
      cubicInterpolationMode: 'monotone'
    });
  }
  datasets.push({
    label: 'pericentre',
    data: [{ x: encounterTimes[0], y: yMin }, { x: encounterTimes[0], y: yMax }],
    borderColor: '#808080', borderWidth: 1.6, borderDash: [8, 3.5]
  });
  datasets.push({
    label: 'end of interaction',
    data: [{ x: encounterTimes[1], y: yMin }, { x: encounterTimes[1], y: yMax }],
    borderColor: '#808080', borderWidth: 1.4, borderDash: [1.6, 2.6]
  });
  if (kind === 'ratio') {
    datasets.push({
      label: 'fast bar limit',
      data: [{ x: timeTicks[0], y: ratioFast }, { x: timeTicks[timeTicks.length - 1], y: ratioFast }],
      borderColor: '#808080', borderWidth: 1.8, borderDash: [12, 3, 2, 3]
    });
  }

  const tickGrid = { display: true, drawOnChartArea: false, drawTicks: true, tickLength: 5, color: '#000', lineWidth: 1.2 };

  new Chart(cv, {
    type: 'line',
    data: { datasets },
    options: {
      responsive: false,
      animation: false,
      events: [],
      layout: { padding: { top: padT, right: padR, left: 0, bottom: 0 } },
      elements: { point: { radius: 0 }, line: { tension: 0, borderCapStyle: 'butt', borderJoinStyle: 'round' } },
      plugins: { legend: { display: false }, tooltip: { enabled: false } },
      scales: {
        x: {
          type: 'linear', min: timeTicks[0], max: timeTicks[timeTicks.length - 1],
          afterBuildTicks: s => { s.ticks = timeTicks.map(v => ({ value: v })); },
          afterFit: s => { s.height = padB; },
          grid: tickGrid,
          border: { display: false },
          ticks: { autoSkip: false, maxRotation: 0, padding: 3, font: { size: 14 },
                   callback: v => row === panelRows.length - 1 ? String(v) : '' }
        },
        y: {
          type: 'linear', min: yMin, max: yMax,
          afterBuildTicks: s => { s.ticks = yt.map(v => ({ value: v })); },
          afterFit: s => { s.width = padL; },
          grid: tickGrid,
          border: { display: false },
          ticks: { autoSkip: false, padding: 4, font: { size: 14 },
                   callback: v => col === 0 ? String(v) : '' }
        }
      }
    },
    plugins: [spine]
  });
}

panelRows.forEach(([kind, cells], r) => {
  cells.forEach((lines, c) => addPanel(r, c, kind, lines));
  const cy = rowTop + r * rowStep + panelH / 2;
  addLabel(yTitleFor[kind], 28, cy, true);
  if (r % 3 === 1) addLabel(diskNames[(r - 1) / 3], 1578, cy, true, 25);
});

massRatios.forEach((m, c) => {
  addLabel('<i>M</i><sub><i>per</i></sub>/<i>M</i><sub><i>gal</i></sub>=' + m, colLeft[c] + panelW / 2, 24, false, 26);
});
addLabel('Time [Gyr]', colLeft[1] + panelW / 2, 1883, false, 25);

// legend of the top-left panel
const legend = document.getElementById('legend');
seriesNames.forEach((name, i) => {
  const y = 14 + i * 21.6;
  const ln = document.createElement('div');
  ln.className = 'lg-line';
  ln.style.top = (y - 1.25) + 'px';
  ln.style.background = seriesColors[i];
  const tx = document.createElement('div');
  tx.className = 'lg-text';
  tx.style.top = y + 'px';
  tx.textContent = name;
  legend.appendChild(ln);
  legend.appendChild(tx);
});
</script>
</body>
</html>
